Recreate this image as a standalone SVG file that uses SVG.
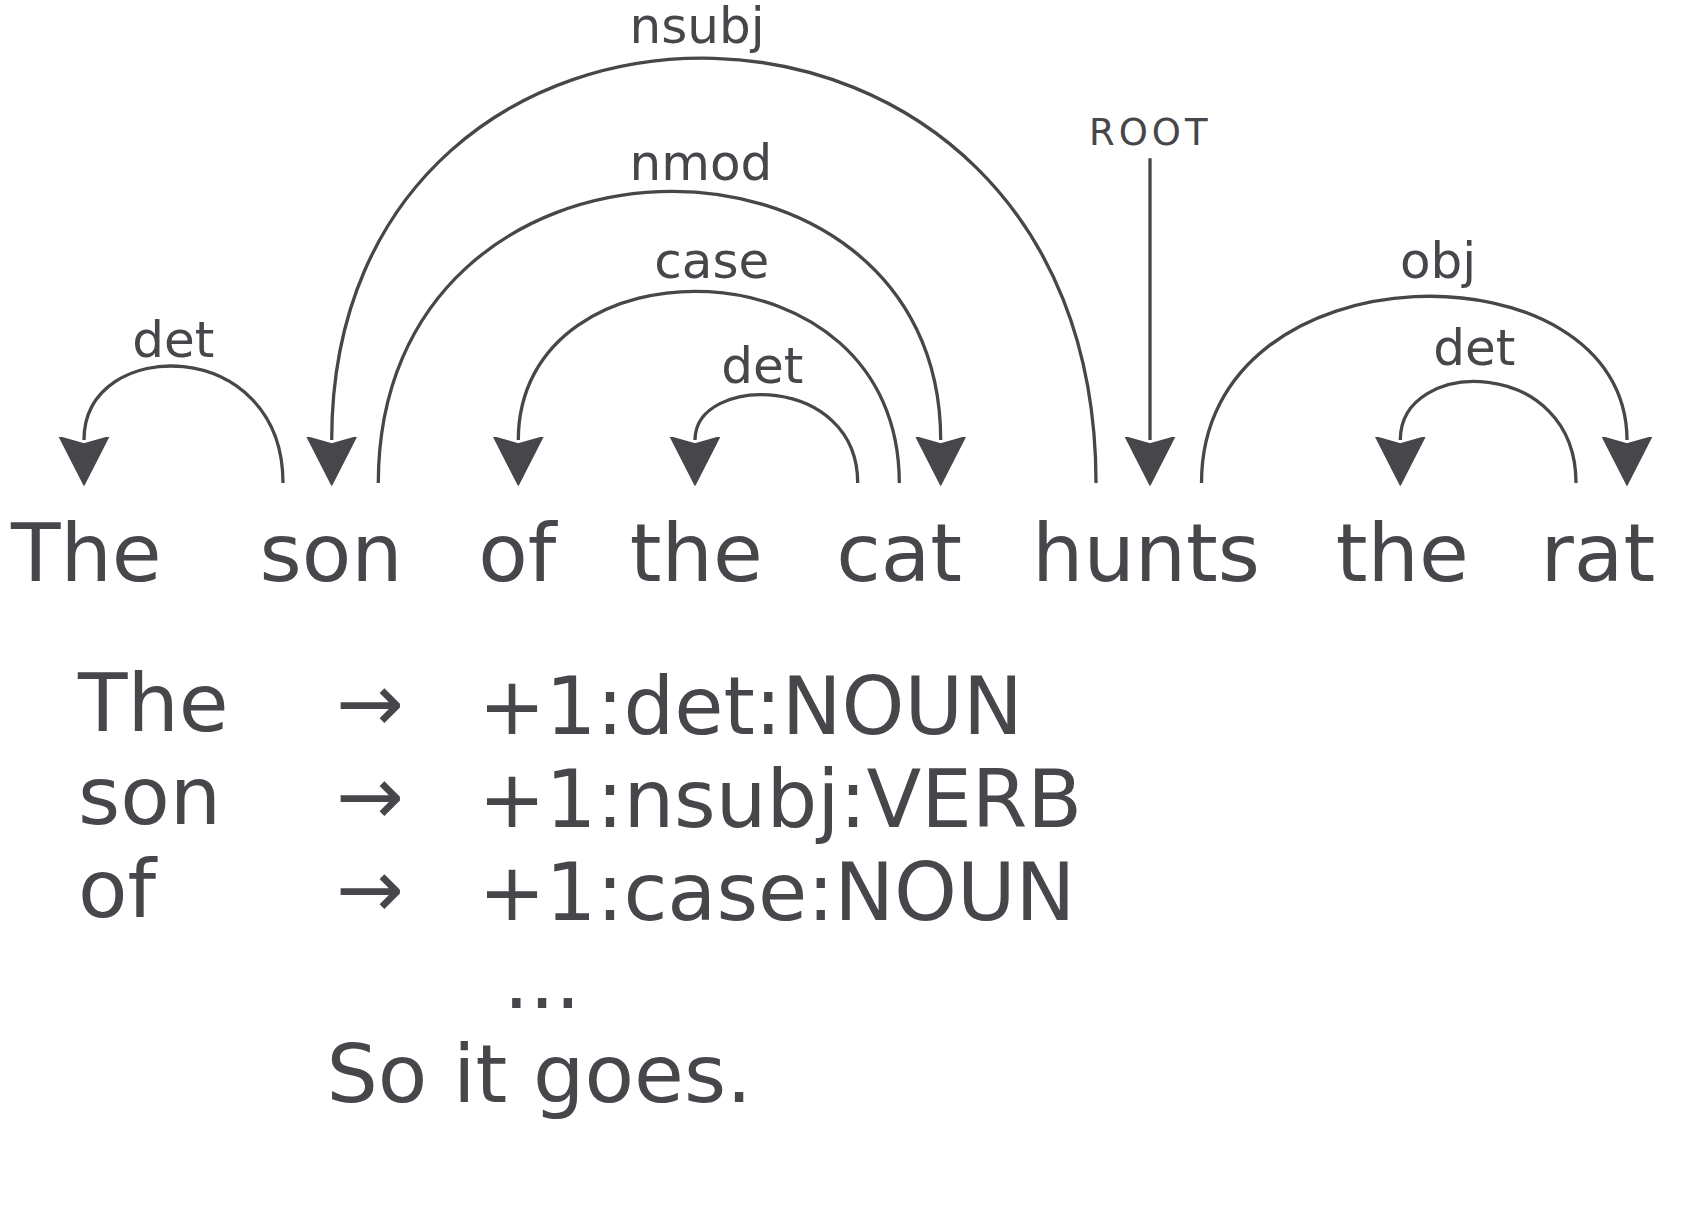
<svg xmlns="http://www.w3.org/2000/svg" width="1682" height="1216" viewBox="0 0 1682 1216">
<style>
  text { font-family: "DejaVu Sans", "Liberation Sans", sans-serif; fill: #46464b; }
  .word { font-size: 81px; }
  .lbl { font-size: 50px; }
  .root { font-size: 37px; letter-spacing: 4px; }
  .big { font-size: 81px; }
  .tag { font-size: 80px; }
  .arc { fill: none; stroke: #46464b; stroke-width: 3.3; marker-end: url(#ah); }
</style>
<defs>
  <marker id="ah" markerUnits="userSpaceOnUse" viewBox="0 -26 50 52" refX="3" refY="0" markerWidth="50" markerHeight="52" orient="auto">
    <path d="M0,-24.5 L48,0 L0,24.5 L7,0 Z" fill="#46464b" stroke="#46464b" stroke-width="1.5" stroke-linejoin="round"/>
  </marker>
</defs>
<rect width="1682" height="1216" fill="#ffffff"/>

<g id="connectors">
  <g id="e-det1">
    <path class="arc" d="M283,483 C283,335.1 84,335.1 84,440"/>
    <text class="lbl" x="132.3" y="356.7">det</text>
  </g>
  <g id="e-nsubj">
    <path class="arc" d="M1096,483 C1096,-76.1 331.7,-76.1 331.7,440"/>
    <text class="lbl" x="629.5" y="42.5">nsubj</text>
  </g>
  <g id="e-nmod">
    <path class="arc" d="M378.3,483 C378.3,101.7 940.7,101.7 940.7,440"/>
    <text class="lbl" x="629.5" y="180">nmod</text>
  </g>
  <g id="e-case">
    <path class="arc" d="M899.3,483 C899.3,235.1 518.3,235.1 518.3,440"/>
    <text class="lbl" x="654.3" y="278.3">case</text>
  </g>
  <g id="e-det2">
    <path class="arc" d="M857.7,483 C857.7,373.7 695,373.7 695,440"/>
    <text class="lbl" x="721.3" y="383.3">det</text>
  </g>
  <g id="e-root">
    <path class="arc" d="M1150,158.3 L1150,440"/>
    <text class="root" x="1089" y="145">ROOT</text>
  </g>
  <g id="e-obj">
    <path class="arc" d="M1201.5,483 C1201.5,241.7 1627,241.7 1627,440"/>
    <text class="lbl" x="1400" y="278.3">obj</text>
  </g>
  <g id="e-det3">
    <path class="arc" d="M1576,483 C1576,355.9 1400.3,355.9 1400.3,440"/>
    <text class="lbl" x="1433.3" y="365">det</text>
  </g>
</g>

<g id="w1"><text class="word" x="11" y="580.5">The</text></g>
<g id="w2"><text class="word" x="259.6" y="580.5">son</text></g>
<g id="w3"><text class="word" x="478.2" y="580.5">of</text></g>
<g id="w4"><text class="word" x="629.8" y="580.5">the</text></g>
<g id="w5"><text class="word" x="836.2" y="580.5">cat</text></g>
<g id="w6"><text class="word" x="1032.1" y="580.5">hunts</text></g>
<g id="w7"><text class="word" x="1335.8" y="580.5">the</text></g>
<g id="w8"><text class="word" x="1540.5" y="580.5">rat</text></g>

<g id="labels-table">
  <text class="big" x="78" y="730.7">The</text>
  <text class="big" x="78" y="824">son</text>
  <text class="big" x="78" y="916.5">of</text>
  <text class="big" x="336" y="730.7">→</text>
  <text class="big" x="336" y="824">→</text>
  <text class="big" x="336" y="916.5">→</text>
  <text class="tag" x="478.5" y="734">+1:det:NOUN</text>
  <text class="tag" x="478.5" y="827">+1:nsubj:VERB</text>
  <text class="tag" x="478.5" y="920">+1:case:NOUN</text>
  <text class="big" x="503.5" y="1008">...</text>
  <text class="big" x="326.4" y="1102">So it goes.</text>
</g>
</svg>
